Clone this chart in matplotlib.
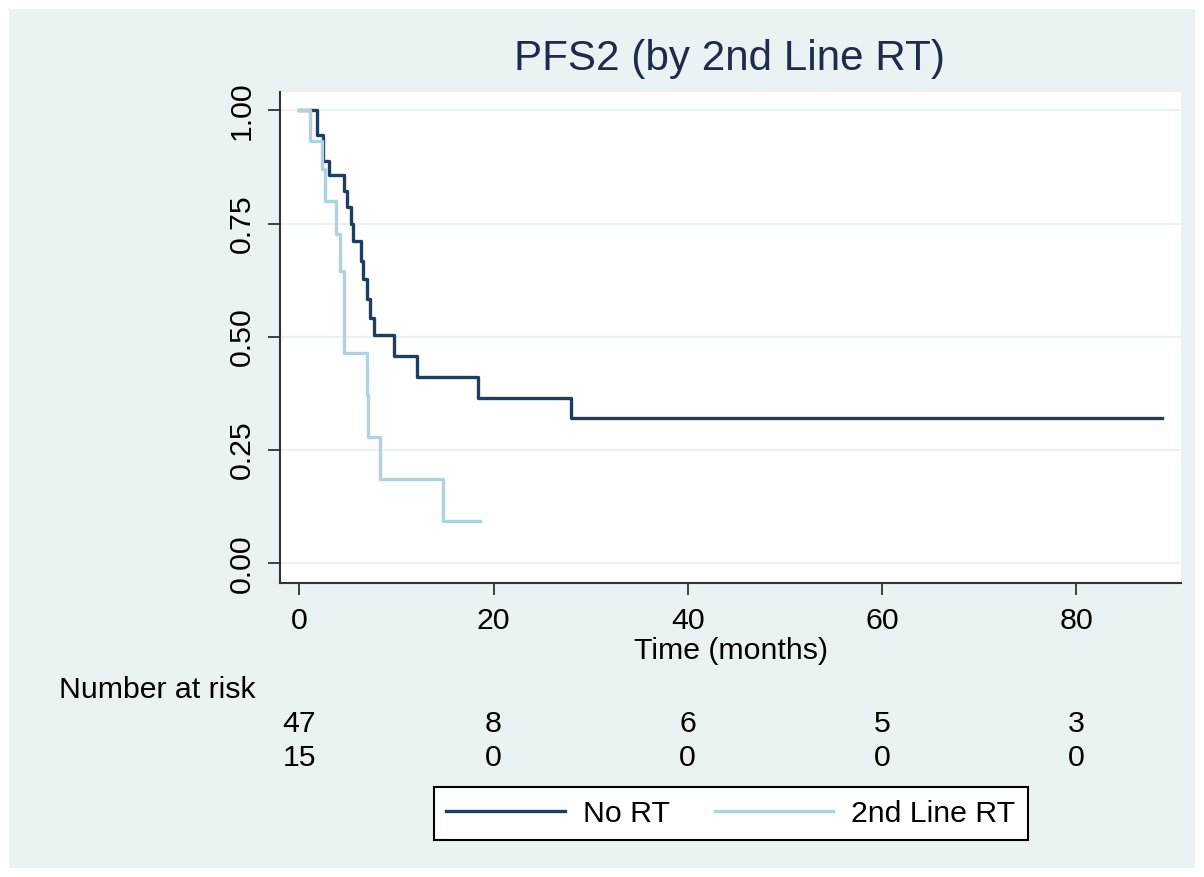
import matplotlib.pyplot as plt
from matplotlib.patches import Rectangle
from matplotlib.transforms import blended_transform_factory

# Kaplan-Meier steps
no_rt_time = [0, 1.8, 2.4, 3.1, 4.6, 4.9, 5.3, 5.5, 6.4, 6.6, 7.0, 7.3, 7.7, 9.8, 12.1, 18.4, 28.0, 88.8]
no_rt_surv = [1.0, 0.946, 0.888, 0.857, 0.822, 0.786, 0.749, 0.712, 0.668, 0.628, 0.584, 0.541,
              0.503, 0.457, 0.411, 0.365, 0.321, 0.321]

rt_time = [0, 1.06, 2.34, 2.61, 3.81, 4.16, 4.6, 7.0, 7.1, 8.28, 14.8, 18.6]
rt_surv = [1.0, 0.933, 0.870, 0.800, 0.727, 0.646, 0.464, 0.371, 0.279, 0.186, 0.093, 0.093]

risk_times = [0, 20, 40, 60, 80]
no_rt_risk = [47, 8, 6, 5, 3]
rt_risk = [15, 0, 0, 0, 0]

y_ticks = [0.0, 0.25, 0.5, 0.75, 1.0]
x_ticks = [0, 20, 40, 60, 80]

plt.rcParams['font.family'] = ['Liberation Sans', 'DejaVu Sans']

W, H = 1204, 877
bg = '#eaf2f3'
dark = '#1f3d5e'
light = '#aed3de'
fs = 21.8

fig = plt.figure(figsize=(W / 100, H / 100), dpi=100, facecolor='white')
# light outer panel (Stata style)
fig.patches.append(Rectangle((9 / W, 9 / H), (1195 - 9) / W, (868 - 9) / H,
                             transform=fig.transFigure, facecolor=bg, edgecolor='none', zorder=-5))

ax = fig.add_axes([280 / W, 1 - 582.7 / H, (1181 - 280) / W, (582.7 - 91.7) / H])
ax.set_facecolor('white')

ax.step(no_rt_time, no_rt_surv, where='post', color=dark, lw=2.4, label='No RT', zorder=3)
ax.step(rt_time, rt_surv, where='post', color=light, lw=2.4, label='2nd Line RT', zorder=4)

ax.set_xlim(-1.99, 90.8)
ax.set_ylim(-0.043, 1.041)
ax.set_xticks(x_ticks)
ax.set_yticks(y_ticks)
ax.set_yticklabels([f'{v:.2f}' for v in y_ticks], rotation=90, va='center')
ax.tick_params(axis='both', labelsize=fs, length=8.6, width=1.3, color='#333333', labelcolor='black')
ax.tick_params(axis='y', pad=9)
ax.tick_params(axis='x', pad=9)
ax.grid(axis='y', color=bg, lw=1.6)
ax.set_axisbelow(True)
for s in ['top', 'right']:
    ax.spines[s].set_visible(False)
for s in ['left', 'bottom']:
    ax.spines[s].set_color('#333333')
    ax.spines[s].set_linewidth(1.5)

fig.text(729 / W, 1 - 70 / H, 'PFS2 (by 2nd Line RT)', ha='center', va='baseline',
         fontsize=30.3, color='#1e2b4a')
fig.text(730.5 / W, 1 - 651 / H, 'Time (months)', ha='center', va='center', fontsize=fs)

# number at risk table
fig.text(59 / W, 1 - 690 / H, 'Number at risk', ha='left', va='center', fontsize=fs)
tr = blended_transform_factory(ax.transData, fig.transFigure)
for t, a, b in zip(risk_times, no_rt_risk, rt_risk):
    fig.text(t, 1 - 724 / H, str(a), transform=tr, ha='center', va='center', fontsize=fs)
    fig.text(t, 1 - 758 / H, str(b), transform=tr, ha='center', va='center', fontsize=fs)

leg = fig.legend(*ax.get_legend_handles_labels(), loc='center', ncol=2,
                 bbox_to_anchor=(731 / W, 1 - 813.5 / H), fontsize=fs, frameon=True,
                 fancybox=False, edgecolor='black', framealpha=1, handlelength=3.9,
                 handletextpad=0.6, columnspacing=1.5, borderpad=0.4)
leg.get_frame().set_linewidth(1.5)

fig.savefig('out.png', dpi=100, facecolor='white')
